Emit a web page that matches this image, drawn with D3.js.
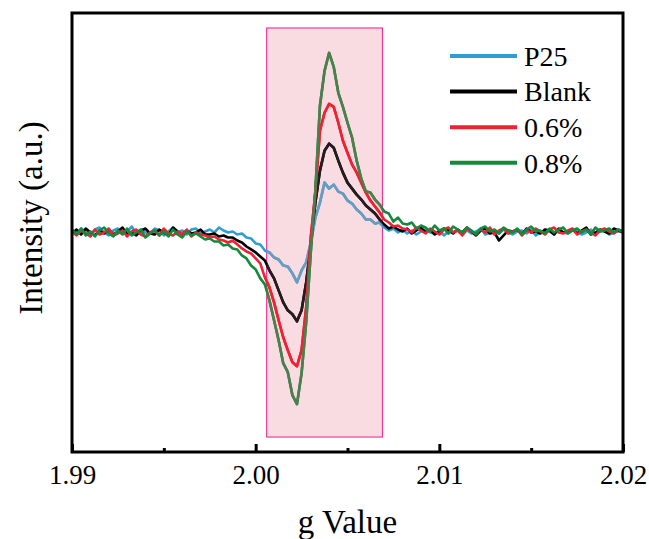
<!DOCTYPE html>
<html>
<head>
<meta charset="utf-8">
<script src="https://cdn.jsdelivr.net/npm/d3@7"></script>
<style>
  body { margin: 0; background: #fff; }
  svg text { fill: #000; }
</style>
</head>
<body>
<div id="chart"></div>
<script>
// g-value sampling of the spectra
const gStart = 1.99;
const gStep = 0.00025;

// intensity (a.u.), one value per sample
const p25 = [2,-1,4,1,-2,3,5,0,-3,2, 4,-1,1,6,-2,3,0,-1,4,2, -3,1,5,0,2,-2,3,4,-1,1, 3,0,5,2,0,
    1,-2,-1,-5,-6,-11,-12,-18,-20,-25,-27,-33,-34,-41,-50,-38,-30,-10,
    15,30,50,44,48,41,39,32,29,23,19,13,13,9,10,5,2,
    4,0,3,-1,2,-2,1,3,0,-1, 2,-3,1,0,3,-2,2,-1,1,4, -2,0,2,-1,3,0,-2,1,2,-1,
    3,-3,0,2,1,-2,3,0,-1,2, 1,-2,0,3,-1,1,2,-2,0,1, 3];

const blank = [-1,3,-2,4,0,-3,2,-1,3,-2, 1,5,-2,0,-3,2,4,-1,-2,3, 0,-3,5,1,-2,2,-1,0,3,-2,
    -2,-1,-4,-3,-5,-5,-8,-10,-14,-17,-20,-24,-28,-38,-46,-58,-70,-78,-82,-89,-78,-50,-12,
    30,62,82,89,85,72,60,50,44,38,33,27,23,19,13,8,4,6,
    3,1,4,-1,2,5,0,3,-2,1, 4,2,-1,3,0,5,1,-3,2,4, -1,0,-8,-3,2,1,3,-2,4,0,
    1,-1,3,2,-2,4,0,1,3,-1, 2,5,-2,0,3,1,-1,4,2,0];

const pct06 = [1,-3,2,-1,-4,3,-2,0,4,-3, -1,2,-4,1,3,-2,-4,0,2,-3, 4,-1,-3,1,-2,3,-4,0,-2,
    -3,-5,-4,-7,-8,-10,-8,-12,-16,-19,-21,-26,-31,-45,-55,-70,-88,-105,-118,-130,-134,-118,-75,-5,
    40,102,120,129,126,110,92,80,68,60,50,40,32,26,20,13,10,6,7,4,
    3,0,5,2,-1,4,1,-2,3,5, 0,2,-3,4,1,-1,3,0,5,-2, 2,4,-1,1,3,-3,2,0,4,1,
    -2,3,5,0,-1,2,4,-2,1,3, 0,-3,2,4,1,-1,3,0];

const pct08 = [3,-2,4,-3,1,-4,2,5,-1,-4, 2,-2,4,-3,0,3,-5,-1,2,-3, 1,-4,3,-2,-5,1,-3,-1,
    -4,-7,-6,-9,-9,-13,-12,-16,-17,-23,-26,-33,-37,-46,-52,-68,-88,-108,-131,-140,-163,-172,-141,-90,-20,
    42,127,162,180,166,140,126,110,95,72,54,41,40,33,28,21,19,11,15,9,8,10,4,7,
    5,1,7,2,4,-1,6,3,0,5, 2,-2,4,6,1,3,-1,5,2,0, 4,-2,3,6,1,2,-1,4,0,3,
    5,-1,2,4,0,3,-2,5,1,2, 4,0,3,1];

const seriesNames = ["P25", "Blank", "0.6%", "0.8%"];
const seriesValues = [p25, blank, pct06, pct08];
const seriesColors = ["#2e9fd0", "#000000", "#ee2233", "#138a3c"];
// colours of the traces where they run under the shaded band
const bandColors = ["#6a9cc2", "#251c22", "#ee2233", "#4e7d4e"];

const majorTicks = [1.99, 2.00, 2.01, 2.02];
const minorTicks = [1.995, 2.005, 2.015];

// shaded g-value band
const bandG = [2.0006, 2.0069];
const bandI = [-205, 205];

const serif = "'Liberation Serif', Tinos, 'Times New Roman', Times, 'Nimbus Roman', 'Noto Serif', FreeSerif, 'DejaVu Serif', serif";

const margin = {top: 13, right: 26, bottom: 87, left: 72};
const width = 649 - margin.left - margin.right;
const height = 539 - margin.top - margin.bottom;

const svg = d3.select("#chart")
    .append("svg")
    .attr("width", 649)
    .attr("height", 539)
    .append("g")
    .attr("transform", "translate(" + margin.left + "," + margin.top + ")");

const x = d3.scaleLinear().domain([1.99, 2.02]).range([0, width]);
const y = d3.scaleLinear().domain([-220, 220]).range([height, 0]);

const defs = svg.append("defs");
defs.append("clipPath").attr("id", "plotClip")
    .append("rect").attr("width", width).attr("height", height);
defs.append("clipPath").attr("id", "bandClip")
    .append("rect")
    .attr("x", x(bandG[0]))
    .attr("y", y(bandI[1]))
    .attr("width", x(bandG[1]) - x(bandG[0]))
    .attr("height", y(bandI[0]) - y(bandI[1]));

// shaded band
svg.append("rect")
    .attr("x", x(bandG[0]))
    .attr("y", y(bandI[1]))
    .attr("width", x(bandG[1]) - x(bandG[0]))
    .attr("height", y(bandI[0]) - y(bandI[1]))
    .attr("fill", "#f9dbe2")
    .attr("stroke", "#ec1c8c")
    .attr("stroke-width", 1);

const line = d3.line()
    .x((d, i) => x(gStart + i * gStep))
    .y(d => y(d));

const plot = svg.append("g").attr("clip-path", "url(#plotClip)");
const inBand = svg.append("g").attr("clip-path", "url(#bandClip)");

seriesValues.forEach(function (vals, k) {
    plot.append("path")
        .datum(vals)
        .attr("fill", "none")
        .attr("stroke", seriesColors[k])
        .attr("stroke-width", 2.6)
        .attr("stroke-linejoin", "round")
        .attr("d", line);
});

seriesValues.forEach(function (vals, k) {
    inBand.append("path")
        .datum(vals)
        .attr("fill", "none")
        .attr("stroke", bandColors[k])
        .attr("stroke-width", 2.6)
        .attr("stroke-linejoin", "round")
        .attr("d", line);
});

// x axis, ticks pointing inward
const xAxis = svg.append("g")
    .attr("transform", "translate(0," + height + ")")
    .call(d3.axisBottom(x).tickValues(majorTicks).tickSize(-8).tickPadding(13)
        .tickFormat(d3.format(".2f")));
xAxis.attr("font-family", null);
xAxis.select(".domain").remove();
xAxis.selectAll("line").attr("stroke", "#000").attr("stroke-width", 3);
xAxis.selectAll("text")
    .style("font-family", serif)
    .style("font-size", "27px");

const xMinor = svg.append("g")
    .attr("transform", "translate(0," + height + ")")
    .call(d3.axisBottom(x).tickValues(minorTicks).tickSize(-4).tickFormat(""));
xMinor.select(".domain").remove();
xMinor.selectAll("line").attr("stroke", "#000").attr("stroke-width", 3);

// frame
svg.append("rect")
    .attr("width", width)
    .attr("height", height)
    .attr("fill", "none")
    .attr("stroke", "#000")
    .attr("stroke-width", 3);

// axis titles
svg.append("text")
    .attr("x", width / 2)
    .attr("y", height + 81)
    .attr("text-anchor", "middle")
    .style("font-family", serif)
    .style("font-size", "33px")
    .text("g Value");

svg.append("text")
    .attr("transform", "rotate(-90)")
    .attr("x", -205)
    .attr("y", -30)
    .attr("text-anchor", "middle")
    .style("font-family", serif)
    .style("font-size", "33px")
    .text("Intensity (a.u.)");

// legend
const legend = svg.append("g")
    .attr("transform", "translate(" + (450 - margin.left) + "," + (56 - margin.top) + ")");

seriesNames.forEach(function (name, k) {
    const item = legend.append("g")
        .attr("transform", "translate(0," + k * 35.6 + ")");
    item.append("line")
        .attr("x1", 0)
        .attr("x2", 67)
        .attr("y1", 0)
        .attr("y2", 0)
        .attr("stroke", seriesColors[k])
        .attr("stroke-width", 4);
    item.append("text")
        .attr("x", 74)
        .attr("y", 0)
        .attr("dy", "0.35em")
        .style("font-family", serif)
        .style("font-size", "28px")
        .text(name);
});
</script>
</body>
</html>
